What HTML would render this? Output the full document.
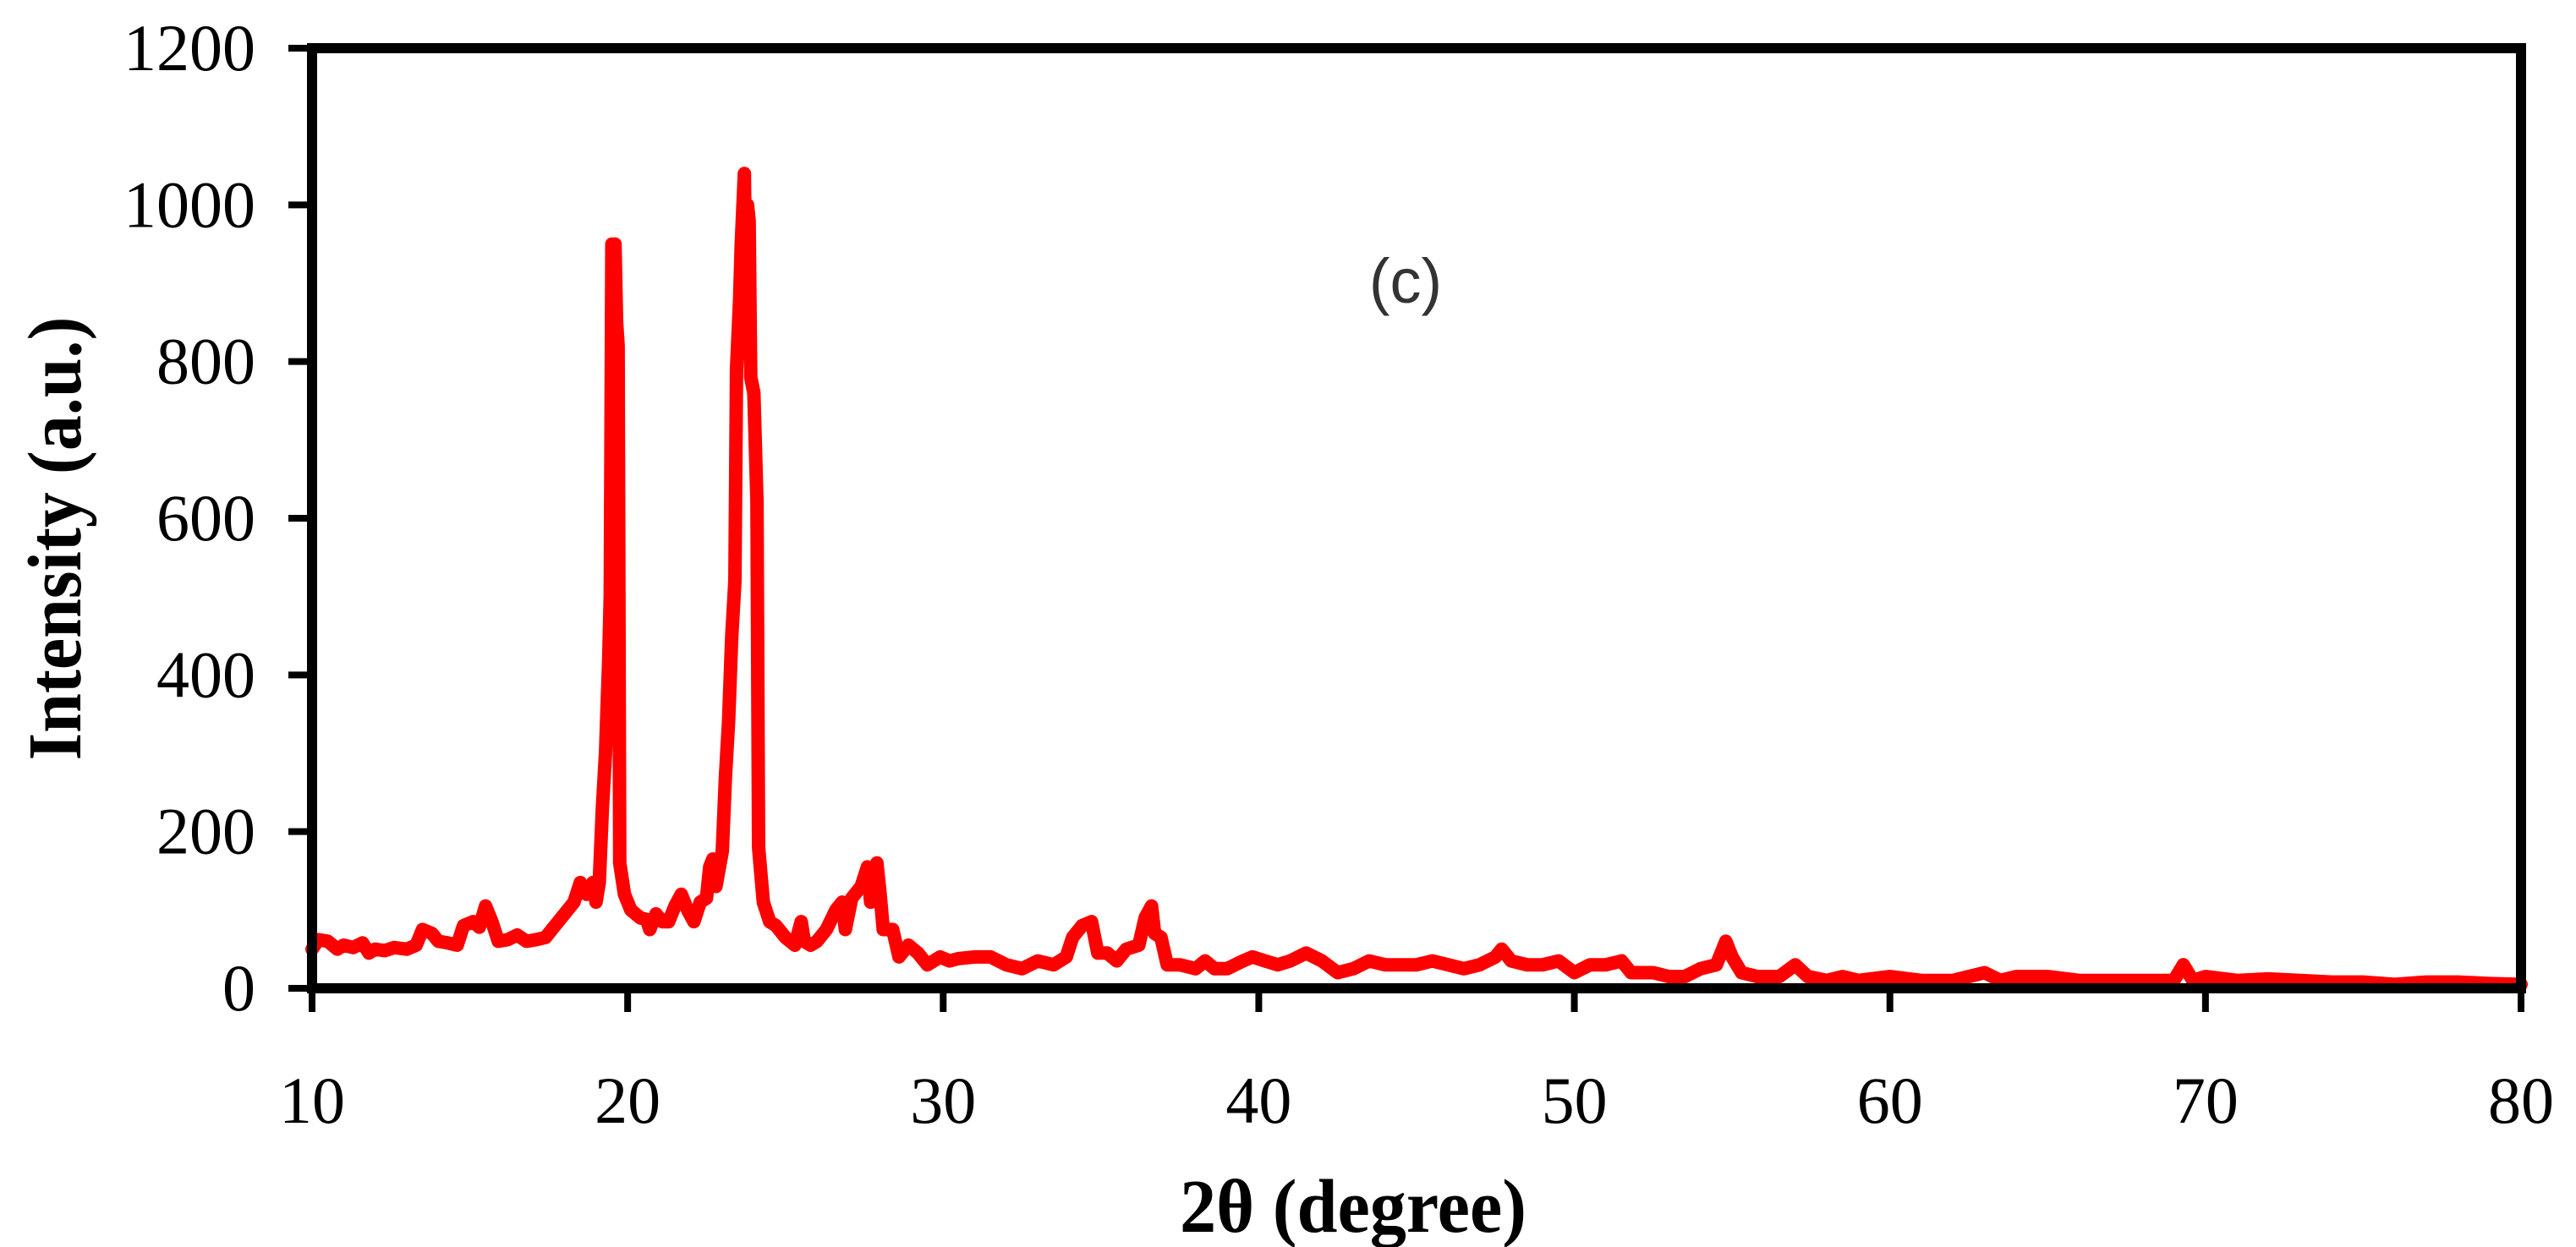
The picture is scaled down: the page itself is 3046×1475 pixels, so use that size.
<!DOCTYPE html>
<html><head><meta charset="utf-8">
<style>html,body{margin:0;padding:0;background:#fff;}svg{display:block;}</style>
</head><body>
<svg id="chart" width="3046" height="1475" viewBox="0 0 3046 1475" xmlns="http://www.w3.org/2000/svg">
<rect x="0" y="0" width="3046" height="1475" fill="#fff"/>
<g id="plot"></g>
<g id="axes"></g>
<text x="1662" y="358" font-family="'Liberation Sans', 'DejaVu Sans', sans-serif" font-size="74" fill="#333" text-anchor="middle">(c)</text>
<text x="1600" y="1457" font-family="'Liberation Serif', serif" font-size="90" font-weight="bold" text-anchor="middle" textLength="410" lengthAdjust="spacingAndGlyphs">2θ (degree)</text>
<text transform="translate(95,637) rotate(-90)" x="0" y="0" font-family="'Liberation Serif', serif" font-size="90" font-weight="bold" text-anchor="middle" textLength="525" lengthAdjust="spacingAndGlyphs">Intensity (a.u.)</text>
</svg>
<script>
const xTicks = [10,20,30,40,50,60,70,80];
const yTicks = [0,200,400,600,800,1000,1200];
const twoTheta = [10.0,10.2,10.5,10.8,11.0,11.3,11.6,11.8,12.0,12.3,12.6,13.0,13.3,13.5,13.8,14.0,14.3,14.6,14.8,15.1,15.3,15.5,15.7,15.9,16.2,16.5,16.8,17.1,17.4,17.7,18.0,18.3,18.5,18.7,18.9,19.0,19.1,19.2,19.3,19.4,19.45,19.5,19.55,19.6,19.65,19.7,19.75,19.9,20.1,20.4,20.6,20.7,20.9,21.1,21.3,21.5,21.7,21.9,22.1,22.3,22.5,22.6,22.7,22.8,23.0,23.1,23.2,23.3,23.4,23.45,23.55,23.6,23.7,23.75,23.8,23.85,23.9,24.0,24.1,24.15,24.3,24.5,24.7,25.0,25.3,25.5,25.6,25.8,26.0,26.3,26.6,26.8,26.9,27.1,27.4,27.6,27.7,27.9,28.0,28.1,28.4,28.6,28.9,29.2,29.5,29.9,30.2,30.5,31.0,31.5,32.0,32.5,33.0,33.5,33.9,34.1,34.4,34.7,34.9,35.2,35.5,35.8,36.2,36.4,36.6,36.7,36.9,37.1,37.5,38.0,38.3,38.6,39.0,39.5,39.8,40.2,40.6,41.0,41.5,42.0,42.5,43.0,43.5,44.0,44.5,45.0,45.5,46.0,46.5,47.0,47.5,47.7,48.0,48.5,49.0,49.5,50.0,50.5,51.0,51.5,51.8,52.5,53.0,53.5,54.0,54.5,54.8,55.0,55.3,55.8,56.5,57.0,57.4,58.0,58.5,59.0,60.0,61.0,62.0,63.0,63.5,64.0,65.0,66.0,67.0,68.0,69.0,69.3,69.6,70.0,71.0,72.0,73.0,74.0,75.0,76.0,77.0,78.0,79.0,80.0];
const intensity = [50,62,60,50,55,52,58,45,50,48,52,50,55,75,70,60,58,55,80,85,78,105,85,60,62,68,60,62,65,80,95,110,135,120,135,110,135,230,300,420,500,950,700,950,850,820,160,120,100,90,88,75,95,85,85,105,120,100,85,110,115,155,165,130,175,270,340,450,520,790,880,950,1040,850,1000,980,780,760,620,180,110,85,80,65,55,85,60,55,60,75,100,110,75,115,130,155,110,160,120,75,75,40,55,45,30,40,35,38,40,40,30,25,35,30,40,65,80,85,45,45,35,50,55,90,105,70,65,30,30,25,35,25,25,35,40,35,30,35,45,35,20,25,35,30,30,30,35,30,25,30,40,50,35,30,30,35,20,30,30,35,20,20,15,15,25,30,60,40,20,15,15,30,15,10,15,10,15,10,10,20,10,15,15,10,10,10,10,30,10,15,10,12,10,8,8,5,8,8,6,5];

const X0=369, X1=2981, Y0=1169, Y1=57;
const xMin=10, xMax=80, yMin=0, yMax=1200;
function sx(v){return X0+(v-xMin)/(xMax-xMin)*(X1-X0);}
function sy(v){return Y0-(v-yMin)/(yMax-yMin)*(Y0-Y1);}
const NS='http://www.w3.org/2000/svg';
const plot=document.getElementById('plot');
const axes=document.getElementById('axes');

let d='';
for(let i=0;i<twoTheta.length;i++){d+=(i?'L':'M')+sx(twoTheta[i]).toFixed(1)+' '+sy(intensity[i]).toFixed(1);}
const line=document.createElementNS(NS,'path');
line.setAttribute('d',d);
line.setAttribute('fill','none');
line.setAttribute('stroke','#ff0000');
line.setAttribute('stroke-width','16');
line.setAttribute('stroke-linejoin','round');
line.setAttribute('stroke-linecap','round');


plot.appendChild(line);

const frame=document.createElementNS(NS,'rect');
frame.setAttribute('x',X0);frame.setAttribute('y',Y1);
frame.setAttribute('width',X1-X0);frame.setAttribute('height',Y0-Y1);
frame.setAttribute('fill','none');frame.setAttribute('stroke','#000');frame.setAttribute('stroke-width','12');


axes.appendChild(frame);

xTicks.forEach(v=>{
  const t=document.createElementNS(NS,'line');
  t.setAttribute('x1',sx(v));t.setAttribute('x2',sx(v));t.setAttribute('y1',Y0);t.setAttribute('y2',Y0+28);
  t.setAttribute('stroke','#000');t.setAttribute('stroke-width','8');
  
  
  axes.appendChild(t);
  const l=document.createElementNS(NS,'text');
  l.setAttribute('x',sx(v));l.setAttribute('y',1328);
  l.setAttribute('font-family',"'Liberation Serif', serif");l.setAttribute('font-size','78');l.setAttribute('text-anchor','middle');
  
  
  l.textContent=v;axes.appendChild(l);
});
yTicks.forEach(v=>{
  const t=document.createElementNS(NS,'line');
  t.setAttribute('x1',X0-28);t.setAttribute('x2',X0);t.setAttribute('y1',sy(v));t.setAttribute('y2',sy(v));
  t.setAttribute('stroke','#000');t.setAttribute('stroke-width','8');
  
  
  axes.appendChild(t);
  const l=document.createElementNS(NS,'text');
  l.setAttribute('x',302);l.setAttribute('y',sy(v)+26);
  l.setAttribute('font-family',"'Liberation Serif', serif");l.setAttribute('font-size','78');l.setAttribute('text-anchor','end');
  
  
  l.textContent=v;axes.appendChild(l);
});
</script>
</body></html>
